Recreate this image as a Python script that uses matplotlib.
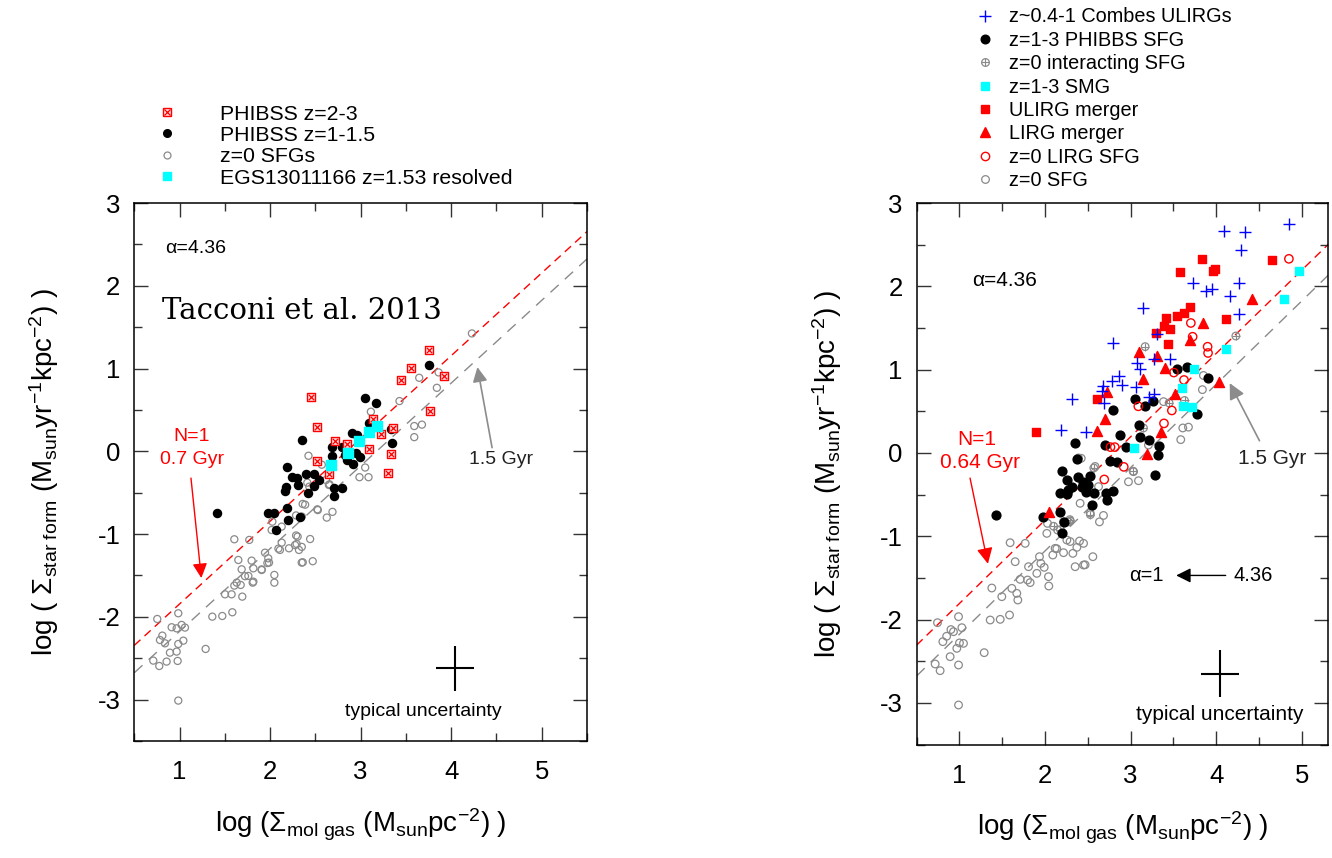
import numpy as np
import matplotlib
matplotlib.use("Agg")
import matplotlib.pyplot as plt
from matplotlib.lines import Line2D
from matplotlib.legend_handler import HandlerTuple
from matplotlib.ticker import MultipleLocator

plt.rcParams['font.family'] = ['Liberation Sans', 'DejaVu Sans']
plt.rcParams['mathtext.fontset'] = 'custom'
plt.rcParams['mathtext.rm'] = 'Liberation Sans'
plt.rcParams['mathtext.it'] = 'Liberation Sans:italic'
plt.rcParams['mathtext.bf'] = 'Liberation Sans:bold'
plt.rcParams['axes.unicode_minus'] = False

# ---------------- data: left panel (Tacconi et al. 2013) ----------------
# (log Sigma_gas, log Sigma_SFR)
left_phibss_z23 = np.array([
    (3.750, 1.221), (3.555, 1.005), (3.444, 0.866), (3.923, 0.905), (3.769, 0.486),
    (2.449, 0.659), (2.523, 0.292), (2.718, 0.119), (2.847, 0.089), (3.131, 0.391),
    (3.227, 0.214), (3.356, 0.279), (3.087, 0.033), (3.334, -0.032), (2.516, -0.118),
    (2.656, -0.270), (3.301, -0.257)])

left_phibss_z1 = np.array([
    (3.75, 1.04), (3.048, 0.648), (3.166, 0.58), (3.092, 0.346), (2.901, 0.217),
    (2.964, 0.197), (2.680, 0.056), (2.790, 0.048), (2.883, -0.004), (2.949, -0.024),
    (2.993, -0.064), (2.827, -0.044), (2.853, -0.105), (2.919, -0.153), (2.680, -0.056),
    (2.349, 0.137), (2.190, -0.193), (2.238, -0.306), (2.301, -0.326), (2.396, -0.274),
    (2.485, -0.278), (2.544, -0.346), (2.485, -0.415), (2.304, -0.407), (2.415, -0.499),
    (2.176, -0.427), (2.165, -0.479), (2.710, -0.447), (2.798, -0.439), (2.706, -0.540),
    (2.183, -0.681), (3.343, 0.097), (3.339, 0.266), (1.41, -0.74), (1.98, -0.75),
    (2.04, -0.75), (2.20, -0.83), (2.07, -0.95), (2.33, -0.79)])

left_z0_sfg = np.array([
    (4.229, 1.424), (3.861, 0.953), (3.647, 0.888), (3.842, 0.767), (3.429, 0.607),
    (3.113, 0.478), (3.592, 0.305), (3.677, 0.322), (3.592, 0.171), (3.050, -0.196),
    (2.987, -0.313), (3.087, -0.313), (2.424, -0.054), (2.571, -0.162), (2.656, -0.399),
    (2.527, -0.710), (2.626, -0.801), (2.689, -0.732), (2.387, -0.645), (2.350, -0.788),
    (2.287, -0.775), (2.433, -0.427), (2.411, -0.379), (2.650, -0.407), (2.617, -0.347),
    (0.754, -2.026), (0.986, -1.957), (0.913, -2.126), (1.023, -2.098), (1.060, -2.130),
    (0.968, -2.139), (0.810, -2.227), (0.784, -2.280), (0.839, -2.320), (0.986, -2.328),
    (1.042, -2.288), (0.894, -2.433), (0.968, -2.420), (0.710, -2.529), (0.776, -2.594),
    (0.857, -2.541), (0.979, -2.533), (1.288, -2.388), (1.362, -1.998), (1.472, -1.990),
    (1.583, -1.945), (0.986, -3.012), (1.502, -1.728), (1.575, -1.728), (1.693, -1.756),
    (1.605, -1.623), (1.675, -1.615), (1.686, -1.426), (1.760, -1.506), (1.815, -1.575),
    (1.815, -1.414), (1.796, -1.321), (1.907, -1.434), (1.944, -1.225), (1.980, -1.293),
    (1.988, -1.345), (2.047, -1.494), (2.047, -1.587), (1.649, -1.313), (1.605, -1.063),
    (1.770, -1.071), (2.017, -0.951), (2.025, -0.850), (2.128, -0.910), (2.109, -1.192),
    (2.128, -1.104), (2.209, -1.172), (2.293, -1.120), (2.304, -1.031), (2.319, -1.192),
    (2.349, -1.345), (1.723, -1.509), (1.631, -1.587), (1.808, -1.587), (2.287, -1.017),
    (2.442, -1.060), (2.276, -1.133), (2.350, -1.155), (2.361, -1.341), (2.471, -1.328),
    (2.092, -1.176), (1.970, -1.350), (1.907, -1.427), (2.360, -0.636), (2.522, -0.701)])

left_egs_resolved = np.array([
    (2.669, -0.160), (2.855, -0.024), (2.986, 0.130), (3.088, 0.228), (3.178, 0.310)])

# ---------------- data: right panel ----------------
right_combes_ulirg = np.array([
    (4.846, 2.75), (4.097, 2.66), (4.335, 2.65), (4.292, 2.435), (3.725, 2.037),
    (4.265, 2.037), (3.880, 1.944), (3.950, 1.967), (4.163, 1.880), (4.270, 1.670),
    (3.150, 1.740), (2.789, 1.325), (3.310, 1.430), (3.455, 1.130), (3.270, 1.130),
    (3.080, 1.075), (3.110, 1.010), (2.862, 0.924), (2.780, 0.868), (2.898, 0.820),
    (2.680, 0.800), (2.664, 0.740), (3.065, 0.790), (3.220, 0.670), (3.270, 0.710),
    (2.310, 0.650), (2.190, 0.280), (2.477, 0.256), (2.694, 0.600)])

right_phibss_sfg = np.array([
    (3.539, 1.005), (3.656, 1.031), (3.902, 0.902), (3.055, 0.650), (3.169, 0.559),
    (3.267, 0.625), (2.797, 0.516), (3.773, 0.469), (3.103, 0.340), (2.880, 0.220),
    (3.111, 0.190), (3.220, 0.160), (3.330, 0.080), (3.325, -0.030), (2.354, 0.120),
    (2.703, 0.100), (2.950, 0.076), (2.760, -0.098), (2.840, -0.104), (3.286, -0.260),
    (2.371, -0.076), (2.196, -0.220), (2.254, -0.330), (2.390, -0.290), (2.449, -0.350),
    (2.527, -0.280), (2.507, -0.390), (2.274, -0.440), (2.176, -0.484), (2.255, -0.490),
    (2.710, -0.484), (2.797, -0.460), (2.722, -0.561), (2.546, -0.621), (2.480, -0.465),
    (1.428, -0.750), (1.980, -0.764), (2.180, -0.705), (2.196, -0.955), (2.216, -0.830),
    (2.430, -0.410), (2.313, -0.404), (2.567, -0.476)])

right_interacting = np.array([
    (3.17, 1.276), (4.23, 1.404), (2.39, -0.06), (2.57, -0.18), (3.15, 0.30),
    (2.29, -0.80), (2.18, -0.92), (3.03, -0.22), (3.63, 0.63), (2.10, -0.88),
    (3.45, 0.60), (2.53, -0.74)])

right_smg = np.array([
    (4.970, 2.180), (4.787, 1.850), (4.113, 1.245), (3.740, 1.006), (3.600, 0.780),
    (3.617, 0.566), (3.720, 0.550), (3.044, 0.060)])

right_ulirg_merger = np.array([
    (3.840, 2.330), (3.583, 2.166), (3.962, 2.186), (3.988, 2.207), (4.650, 2.315),
    (3.696, 1.752), (3.622, 1.683), (3.540, 1.638), (3.411, 1.620), (3.385, 1.520),
    (3.462, 1.483), (3.299, 1.440), (3.432, 1.305), (4.115, 1.607), (1.895, 0.250),
    (2.612, 0.650)])

right_lirg_merger = np.array([
    (4.420, 1.843), (3.842, 1.555), (3.692, 1.358), (3.093, 1.210), (3.310, 1.165),
    (3.403, 1.020), (3.145, 0.886), (2.722, 0.737), (3.520, 0.712), (4.030, 0.850),
    (2.702, 0.410), (2.612, 0.260), (3.190, -0.018), (3.357, 0.250), (2.052, -0.713)])

right_lirg_sfg = np.array([
    (4.850, 2.330), (3.704, 1.560), (3.725, 1.395), (3.900, 1.275), (3.905, 1.200),
    (3.505, 0.965), (3.624, 0.876), (3.482, 0.510), (3.390, 0.355), (3.090, 0.560),
    (2.765, 0.070), (2.815, 0.070), (2.920, -0.167), (2.692, -0.318)])

right_z0_sfg = np.array([
    (3.851, 0.930), (3.839, 0.760), (3.610, 0.300), (3.676, 0.310), (3.586, 0.160),
    (3.208, 0.095), (2.975, -0.346), (3.092, -0.333), (2.585, -0.162), (2.625, -0.404),
    (2.527, -0.720), (2.683, -0.750), (2.636, -0.827), (2.410, -0.604), (2.274, -0.827),
    (2.215, -0.827), (2.029, -0.845), (2.021, -0.965), (2.146, -0.925), (2.294, -0.817),
    (2.255, -1.045), (2.403, -1.057), (2.450, -1.085), (2.118, -1.145), (2.216, -1.197),
    (2.325, -1.205), (2.372, -1.133), (2.559, -1.245), (2.450, -1.345), (2.352, -1.365),
    (2.091, -1.225), (1.935, -1.245), (1.951, -1.325), (1.990, -1.373), (1.904, -1.445),
    (2.040, -1.485), (2.044, -1.597), (1.768, -1.085), (1.592, -1.077), (1.651, -1.305),
    (1.807, -1.365), (1.709, -1.517), (1.795, -1.525), (1.612, -1.625), (1.682, -1.765),
    (1.495, -1.725), (1.359, -2.005), (1.476, -1.997), (1.585, -1.945), (1.289, -2.397),
    (0.989, -1.965), (0.743, -2.037), (1.028, -2.097), (0.930, -2.145), (1.047, -2.285),
    (0.969, -2.345), (0.806, -2.265), (0.891, -2.445), (0.716, -2.533), (0.774, -2.613),
    (0.989, -2.545), (0.989, -3.025), (0.850, -2.200), (0.900, -2.120), (1.000, -2.280),
    (2.423, -0.064), (1.378, -1.621), (2.137, -1.149), (2.293, -1.063), (2.468, -1.342),
    (1.826, -1.556), (1.670, -1.685), (3.034, -0.224), (3.385, 0.616)])

# depletion-time lines, end points
left_line_x = [0.5, 5.5]
left_red_y = [-2.345, 2.655]     # N=1, 0.7 Gyr
left_gray_y = [-2.676, 2.324]    # 1.5 Gyr
right_line_x = [0.5, 5.31]
right_red_y = [-2.306, 2.504]    # N=1, 0.64 Gyr
right_gray_y = [-2.676, 2.134]   # 1.5 Gyr

fig = plt.figure(figsize=(13.32, 8.58), dpi=100)
axL = fig.add_axes([0.1008, 0.1364, 0.3399, 0.6270])
axR = fig.add_axes([0.6882, 0.1322, 0.3090, 0.6312])

GRAY = '#8a8a8a'
ylab = r'log ( $\Sigma_{\rm star\ form}$ (M$_{\rm sun}$yr$^{-1}$kpc$^{-2}$) )'
xlab = r'log ($\Sigma_{\rm mol\ gas}$ (M$_{\rm sun}$pc$^{-2}$) )'


def style(ax, xmax):
    ax.set_xlim(0.5, xmax)
    ax.set_ylim(-3.5, 3)
    ax.set_xticks([1, 2, 3, 4, 5])
    ax.set_yticks([-3, -2, -1, 0, 1, 2, 3])
    ax.xaxis.set_minor_locator(MultipleLocator(0.5))
    ax.yaxis.set_minor_locator(MultipleLocator(0.5))
    ax.tick_params(which='both', direction='in', top=True, right=True,
                   width=1.0, color='#333333')
    ax.tick_params(which='major', length=10, labelsize=18.5, pad=10)
    ax.tick_params(axis='x', which='major', pad=14)
    ax.tick_params(which='minor', length=6)
    for s in ax.spines.values():
        s.set_linewidth(1.1)
    ax.set_xlabel(xlab, fontsize=20, labelpad=16)
    ax.set_ylabel(ylab, fontsize=20, labelpad=26)


# ---------------- left panel ----------------
axL.plot(left_line_x, left_red_y, color='red', lw=1, dashes=(6, 4), zorder=1)
axL.plot(left_line_x, left_gray_y, color=GRAY, lw=1, dashes=(8, 6), zorder=1)
axL.scatter(left_z0_sfg[:, 0], left_z0_sfg[:, 1], s=26, facecolors='none',
            edgecolors=GRAY, linewidths=0.9, zorder=2)
axL.scatter(left_phibss_z1[:, 0], left_phibss_z1[:, 1], s=34, c='black', zorder=3)
axL.scatter(left_phibss_z23[:, 0], left_phibss_z23[:, 1], marker='s', s=36,
            facecolors='#ffdede', edgecolors='red', linewidths=1, zorder=4)
axL.scatter(left_phibss_z23[:, 0], left_phibss_z23[:, 1], marker='x', s=15,
            c='red', linewidths=0.9, zorder=5)
axL.scatter(left_egs_resolved[:, 0], left_egs_resolved[:, 1], marker='s', s=42,
            c='cyan', zorder=6)

axL.text(0.84, 2.45, 'α=4.36', fontsize=14, va='center')
axL.text(0.81, 1.70, 'Tacconi et al. 2013', fontsize=21, va='center',
         family='DejaVu Serif')
axL.text(1.134, 0.184, 'N=1', color='red', fontsize=14, ha='center', va='center')
axL.text(1.134, -0.097, '0.7 Gyr', color='red', fontsize=14, ha='center', va='center')
axL.annotate('', xy=(1.244, -1.565), xytext=(1.123, -0.29),
             arrowprops=dict(arrowstyle='-|>', color='red', lw=1, mutation_scale=22))
axL.annotate('', xy=(4.284, 1.05), xytext=(4.457, 0.011),
             arrowprops=dict(arrowstyle='-|>', color='#8c8c8c', lw=1.2, mutation_scale=22))
axL.text(4.55, -0.097, '1.5 Gyr', fontsize=14, ha='center', va='center', color='#222222')
axL.errorbar([4.037], [-2.623], xerr=0.21, yerr=0.27, fmt='none', ecolor='black',
             elinewidth=1.5, capsize=0)
axL.text(3.687, -3.14, 'typical uncertainty', fontsize=14, ha='center', va='center')
style(axL, 5.5)

hL = [(Line2D([], [], ls='none', marker='s', ms=6, mfc='#ffdede', mec='red', mew=1),
       Line2D([], [], ls='none', marker='x', ms=3.8, color='red', mew=0.9)),
      Line2D([], [], ls='none', marker='o', ms=5.5, color='black'),
      Line2D([], [], ls='none', marker='o', ms=5, mfc='none', mec=GRAY, mew=0.9),
      Line2D([], [], ls='none', marker='s', ms=6.3, color='cyan')]
lL = ['PHIBSS z=2-3', 'PHIBSS z=1-1.5', 'z=0 SFGs', 'EGS13011166 z=1.53 resolved']
axL.legend(hL, lL, loc='upper left', bbox_to_anchor=(0.0486, 1.183), frameon=False,
           fontsize=15.3, handlelength=1.0, handletextpad=2.0, labelspacing=0.11,
           borderpad=0, borderaxespad=0,
           handler_map={tuple: HandlerTuple(ndivide=1, pad=0)})

# ---------------- right panel ----------------
axR.plot(right_line_x, right_red_y, color='red', lw=1, dashes=(6, 4), zorder=1)
axR.plot(right_line_x, right_gray_y, color=GRAY, lw=1, dashes=(8, 6), zorder=1)
axR.scatter(right_z0_sfg[:, 0], right_z0_sfg[:, 1], s=30, facecolors='none',
            edgecolors=GRAY, linewidths=0.9, zorder=2)
axR.scatter(right_interacting[:, 0], right_interacting[:, 1], s=30, facecolors='none',
            edgecolors=GRAY, linewidths=0.9, zorder=2)
axR.scatter(right_interacting[:, 0], right_interacting[:, 1], marker='+', s=30,
            c=GRAY, linewidths=0.8, zorder=2)
axR.scatter(right_phibss_sfg[:, 0], right_phibss_sfg[:, 1], s=40, c='black', zorder=3)
axR.scatter(right_lirg_sfg[:, 0], right_lirg_sfg[:, 1], s=36, facecolors='none',
            edgecolors='red', linewidths=1, zorder=4)
axR.scatter(right_lirg_merger[:, 0], right_lirg_merger[:, 1], marker='^', s=52,
            c='red', zorder=5)
axR.scatter(right_ulirg_merger[:, 0], right_ulirg_merger[:, 1], marker='s', s=40,
            c='red', zorder=5)
axR.scatter(right_smg[:, 0], right_smg[:, 1], marker='s', s=36, c='cyan', zorder=6)
axR.scatter(right_combes_ulirg[:, 0], right_combes_ulirg[:, 1], marker='+', s=64,
            c='blue', linewidths=1, zorder=7)

axR.text(1.144, 2.069, 'α=4.36', fontsize=15, va='center')
axR.text(1.20, 0.160, 'N=1', color='red', fontsize=15, ha='center', va='center')
axR.text(1.24, -0.119, '0.64 Gyr', color='red', fontsize=15, ha='center', va='center')
axR.annotate('', xy=(1.339, -1.363), xytext=(1.117, -0.269),
             arrowprops=dict(arrowstyle='-|>', color='red', lw=1, mutation_scale=24))
axR.annotate('', xy=(4.143, 0.868), xytext=(4.521, 0.117),
             arrowprops=dict(arrowstyle='-|>', color='#8c8c8c', lw=1.2, mutation_scale=24))
axR.text(4.65, -0.063, '1.5 Gyr', fontsize=15, ha='center', va='center', color='#222222')
axR.text(3.19, -1.47, 'α=1', fontsize=14.5, ha='center', va='center')
axR.annotate('', xy=(3.50, -1.47), xytext=(4.143, -1.47),
             arrowprops=dict(arrowstyle='-|>', color='black', lw=1, mutation_scale=22))
axR.text(4.435, -1.47, '4.36', fontsize=14.5, ha='center', va='center')
axR.errorbar([4.046], [-2.65], xerr=0.218, yerr=0.283, fmt='none', ecolor='black',
             elinewidth=1.5, capsize=0)
axR.text(4.046, -3.144, 'typical uncertainty', fontsize=15, ha='center', va='center')
style(axR, 5.31)

hR = [Line2D([], [], ls='none', marker='+', ms=8, color='blue', mew=1),
      Line2D([], [], ls='none', marker='o', ms=6.2, color='black'),
      (Line2D([], [], ls='none', marker='o', ms=5.5, mfc='none', mec=GRAY, mew=0.9),
       Line2D([], [], ls='none', marker='+', ms=5.5, color=GRAY, mew=0.8)),
      Line2D([], [], ls='none', marker='s', ms=6, color='cyan'),
      Line2D([], [], ls='none', marker='s', ms=6.2, color='red'),
      Line2D([], [], ls='none', marker='^', ms=7, color='red'),
      Line2D([], [], ls='none', marker='o', ms=6, mfc='none', mec='red', mew=1),
      Line2D([], [], ls='none', marker='o', ms=5.5, mfc='none', mec=GRAY, mew=0.9)]
lR = ['z~0.4-1 Combes ULIRGs', 'z=1-3 PHIBBS SFG', 'z=0 interacting SFG',
      'z=1-3 SMG', 'ULIRG merger', 'LIRG merger', 'z=0 LIRG SFG', 'z=0 SFG']
axR.legend(hR, lR, loc='upper left', bbox_to_anchor=(0.1407, 1.361), frameon=False,
           fontsize=14.3, handlelength=1.0, handletextpad=0.75, labelspacing=0.22,
           borderpad=0, borderaxespad=0,
           handler_map={tuple: HandlerTuple(ndivide=1, pad=0)})

fig.savefig('out.png', dpi=100)
